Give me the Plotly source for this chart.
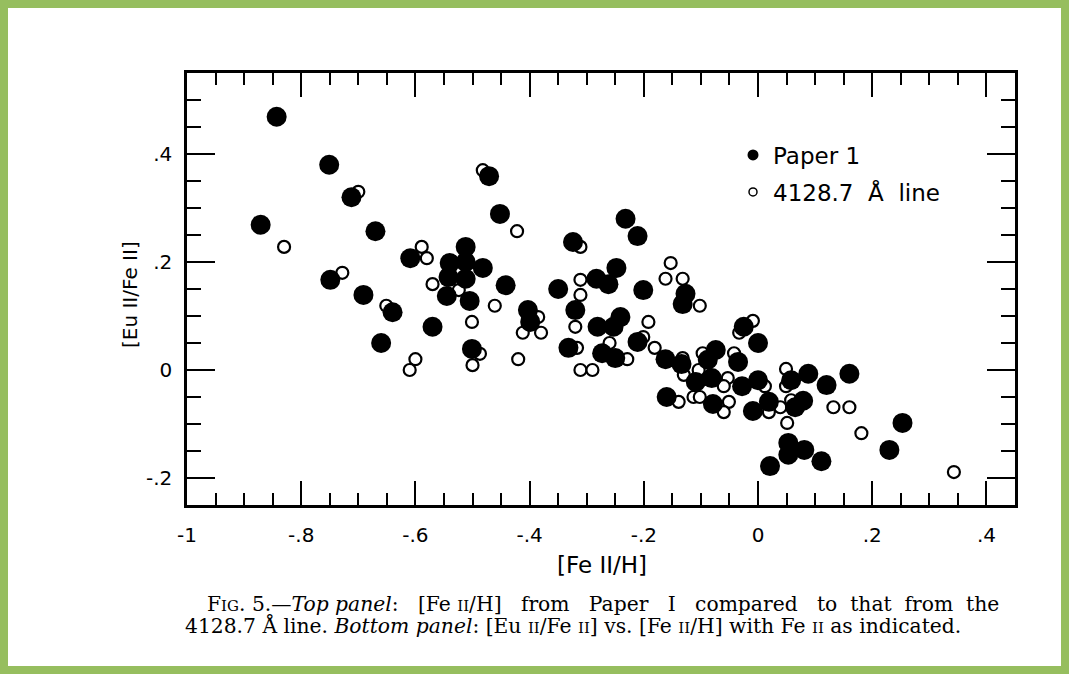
import plotly.graph_objects as go

# ---------------- data ----------------
paper1_feh = [-0.843, -0.871, -0.751, -0.712, -0.749, -0.670, -0.691, -0.640, -0.660, -0.570,
              -0.609, -0.512, -0.540, -0.512, -0.542, -0.512, -0.545, -0.505, -0.501, -0.471,
              -0.452, -0.482, -0.442, -0.350, -0.403, -0.399, -0.324, -0.320, -0.332, -0.283,
              -0.262, -0.248, -0.232, -0.211, -0.201, -0.241, -0.281, -0.253, -0.211, -0.273,
              -0.250, -0.162, -0.134, -0.127, -0.132, -0.074, -0.088, -0.109, -0.081, -0.160,
              -0.079, -0.025, 0.000, -0.035, -0.028, 0.000, -0.009, 0.019, 0.058, 0.088,
              0.120, 0.079, 0.065, 0.160, 0.053, 0.081, 0.053, 0.021, 0.111, 0.253, 0.230]
paper1_eufe = [0.469, 0.269, 0.380, 0.320, 0.167, 0.257, 0.139, 0.107, 0.050, 0.080,
               0.207, 0.228, 0.198, 0.200, 0.172, 0.169, 0.137, 0.128, 0.039, 0.359,
               0.289, 0.189, 0.157, 0.150, 0.111, 0.089, 0.237, 0.111, 0.041, 0.169,
               0.159, 0.189, 0.280, 0.248, 0.148, 0.098, 0.080, 0.080, 0.052, 0.031,
               0.022, 0.020, 0.011, 0.141, 0.122, 0.037, 0.019, -0.022, -0.015, -0.050,
               -0.063, 0.080, 0.050, 0.015, -0.030, -0.019, -0.076, -0.059, -0.019, -0.007,
               -0.028, -0.057, -0.069, -0.007, -0.135, -0.148, -0.157, -0.178, -0.169, -0.098, -0.148]

line4128_feh = [-0.700, -0.830, -0.589, -0.580, -0.728, -0.482, -0.570, -0.524, -0.651, -0.501,
                -0.600, -0.610, -0.500, -0.422, -0.311, -0.153, -0.162, -0.132, -0.311, -0.311,
                -0.461, -0.385, -0.320, -0.412, -0.380, -0.192, -0.102, -0.009, -0.033, -0.487,
                -0.420, -0.317, -0.260, -0.229, -0.201, -0.181, -0.311, -0.290, -0.130, -0.132,
                -0.097, -0.042, -0.104, -0.053, -0.060, -0.113, -0.102, -0.139, -0.051, -0.060,
                0.049, 0.049, 0.012, 0.058, 0.039, 0.019, 0.132, 0.160, 0.051, 0.181, 0.343]
line4128_eufe = [0.330, 0.228, 0.228, 0.207, 0.180, 0.370, 0.159, 0.148, 0.119, 0.089,
                 0.020, 0.000, 0.009, 0.257, 0.228, 0.198, 0.169, 0.169, 0.167, 0.139,
                 0.119, 0.098, 0.080, 0.069, 0.069, 0.089, 0.119, 0.091, 0.069, 0.030,
                 0.020, 0.041, 0.050, 0.020, 0.061, 0.041, 0.000, 0.000, -0.009, 0.022,
                 0.031, 0.031, 0.000, -0.015, -0.030, -0.050, -0.050, -0.059, -0.059, -0.078,
                 0.002, -0.030, -0.030, -0.056, -0.069, -0.078, -0.069, -0.069, -0.098, -0.117, -0.189]

x_tickvals = [-1, -0.8, -0.6, -0.4, -0.2, 0, 0.2, 0.4]
x_ticktext = ["-1", "-.8", "-.6", "-.4", "-.2", "0", ".2", ".4"]
y_tickvals = [-0.2, 0, 0.2, 0.4]
y_ticktext = ["-.2", "0", ".2", ".4"]

# ---------------- layout geometry ----------------
W, H = 1069, 674
L, R, T, B = 187, 1015, 73, 505
pw, ph = R - L, B - T


def px_x(px):
    return (px - L) / pw


def px_y(py):
    return (B - py) / ph


SANS = "DejaVu Sans"
SERIF = "DejaVu Serif"
GREEN = "#96be5f"

fig = go.Figure()

fig.add_trace(go.Scatter(
    x=line4128_feh, y=line4128_eufe, mode="markers", showlegend=False,
    marker=dict(symbol="circle", size=12, color="white", line=dict(color="black", width=2.2)),
))
fig.add_trace(go.Scatter(
    x=paper1_feh, y=paper1_eufe, mode="markers", showlegend=False,
    marker=dict(symbol="circle", size=20, color="black", line=dict(width=0)),
))
# legend entries
fig.add_trace(go.Scatter(
    x=[None], y=[None], mode="markers", name="Paper 1", legend="legend",
    marker=dict(symbol="circle", size=11, color="black", line=dict(width=0)),
))
fig.add_trace(go.Scatter(
    x=[None], y=[None], mode="markers", name="4128.7  Å  line", legend="legend2",
    marker=dict(symbol="circle", size=8, color="white", line=dict(color="black", width=1.5)),
))

axis_common = dict(
    showline=True, linecolor="black", linewidth=2.5, mirror="ticks",
    ticks="inside", tickcolor="black", tickwidth=2,
    showgrid=False, zeroline=False,
    tickfont=dict(family=SANS, size=20, color="black"),
)

fig.update_xaxes(
    range=[-1, 0.45], tickvals=x_tickvals, ticktext=x_ticktext, ticklen=24,
    ticklabelstandoff=10,
    minor=dict(dtick=0.05, tick0=0, ticks="inside", ticklen=12, tickwidth=1.5, tickcolor="black"),
    **axis_common,
)
fig.update_yaxes(
    range=[-0.25, 0.55], tickvals=y_tickvals, ticktext=y_ticktext, ticklen=28,
    ticklabelstandoff=8,
    minor=dict(dtick=0.05, tick0=0, ticks="inside", ticklen=14, tickwidth=1.5, tickcolor="black"),
    **axis_common,
)

legend_common = dict(
    xref="paper", yref="paper", xanchor="left", yanchor="middle",
    bgcolor="rgba(0,0,0,0)", borderwidth=0,
    font=dict(family=SANS, size=23, color="black"),
)

shapes = []
bw = 8
for (x0, y0, x1, y1) in [(0, 0, bw, H), (0, 0, W, bw), (W - bw, 0, W, H), (0, H - bw, W, H)]:
    shapes.append(dict(type="rect", xref="paper", yref="paper",
                       x0=px_x(x0), x1=px_x(x1), y0=px_y(y1), y1=px_y(y0),
                       fillcolor=GREEN, line=dict(width=0), layer="above"))

small = "<span style='font-size:15px'>"
cap1 = ("F" + small + "IG</span>. 5.—<i>Top panel</i>:   [Fe " + small + "II</span>/H]   from   Paper   I   "
        "compared   to  that  from  the")
cap2 = ("4128.7 Å line. <i>Bottom panel</i>: [Eu " + small + "II</span>/Fe " + small + "II</span>] vs. "
        "[Fe " + small + "II</span>/H] with Fe " + small + "II</span> as indicated.")

annotations = [
    dict(text="[Fe II/H]", xref="paper", yref="paper", x=px_x(602), y=px_y(565),
         xanchor="center", yanchor="middle", showarrow=False,
         font=dict(family=SANS, size=23, color="black")),
    dict(text="[Eu II/Fe II]", xref="paper", yref="paper", x=px_x(130), y=px_y(295),
         xanchor="center", yanchor="middle", showarrow=False, textangle=-90,
         font=dict(family=SANS, size=20, color="black")),
    dict(text=cap1, xref="paper", yref="paper", x=px_x(205), y=px_y(604),
         xanchor="left", yanchor="middle", showarrow=False,
         font=dict(family=SERIF, size=20.3, color="black")),
    dict(text=cap2, xref="paper", yref="paper", x=px_x(183), y=px_y(625),
         xanchor="left", yanchor="middle", showarrow=False,
         font=dict(family=SERIF, size=20.3, color="black")),
]

fig.update_layout(
    width=W, height=H,
    margin=dict(l=L, r=W - R, t=T, b=H - B, pad=0, autoexpand=False),
    paper_bgcolor="white", plot_bgcolor="white",
    legend=dict(x=px_x(733), y=px_y(155), **legend_common),
    legend2=dict(x=px_x(733), y=px_y(192), **legend_common),
    shapes=shapes,
    annotations=annotations,
)

fig.write_html("out.html")
